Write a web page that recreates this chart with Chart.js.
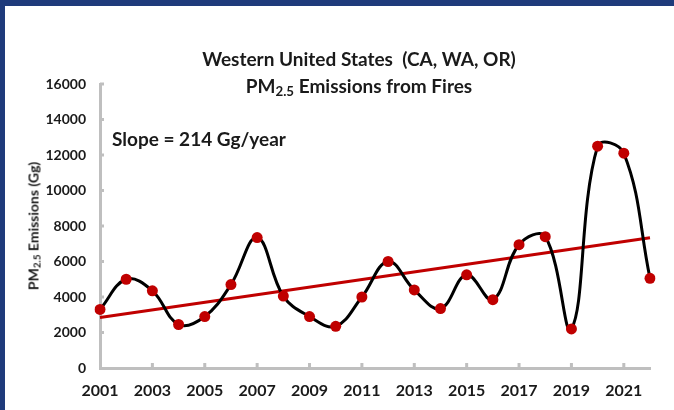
<!DOCTYPE html>
<html>
<head>
<meta charset="utf-8">
<script src="https://cdn.jsdelivr.net/npm/chart.js@4"></script>
<style>
  html, body { margin: 0; padding: 0; background: #fff; }
  #frame { position: relative; width: 674px; height: 410px; box-sizing: border-box;
           border-top: 6px solid #1F3B7B; border-left: 5px solid #1F3B7B; background: #fff; overflow: hidden; }
  #c { position: absolute; left: -5px; top: -6px; }
  .txt { position: absolute; font-family: Lato, 'Open Sans', sans-serif; font-weight: bold; color: #1a1a1a; white-space: nowrap; }
  .txt sub { font-size: 70%; vertical-align: -0.25em; line-height: 0; }
  #t1 { left: 354px; top: 41px; transform: translateX(-50%); font-size: 19px; }
  #t2 { left: 354px; top: 68px; transform: translateX(-50%); font-size: 19px; }
  #slope { left: 107px; top: 121px; font-size: 19px; }
  #ytitle { left: 28px; top: 220px; font-size: 14px; transform: translate(-50%, -50%) rotate(-90deg); }
</style>
</head>
<body>
<div id="frame">
  <canvas id="c" width="674" height="410"></canvas>
  <div class="txt" id="t1">Western United States&nbsp; (CA, WA, OR)</div>
  <div class="txt" id="t2">PM<sub>2.5</sub> Emissions from Fires</div>
  <div class="txt" id="slope">Slope = 214 Gg/year</div>
  <div class="txt" id="ytitle">PM<sub>2.5</sub> Emissions (Gg)</div>
</div>
<script>
// données
const years = ['2001','2002','2003','2004','2005','2006','2007','2008','2009','2010','2011',
               '2012','2013','2014','2015','2016','2017','2018','2019','2020','2021','2022'];
const emissions = [3300, 5000, 4350, 2450, 2900, 4700, 7350, 4050, 2900, 2350, 4000,
                   6000, 4400, 3350, 5250, 3850, 6950, 7400, 2200, 12500, 12100, 5050];
const trendYears = ['2001', '2022'];
const trendValues = [2850, 7344];
const yMin = 0, yMax = 16000, yStep = 2000;

const axisGray = '#BFBFBF';
const darkRed = '#C00000';

// petits traits de graduation vers l'intérieur
const innerTicks = {
  id: 'innerTicks',
  afterDraw(chart){
    const ctx = chart.ctx, x = chart.scales.x, y = chart.scales.y;
    ctx.save();
    ctx.strokeStyle = axisGray;
    ctx.lineWidth = 3;
    ctx.beginPath();
    years.forEach(function(lbl, i){
      if(i % 2 === 0 && i > 0){
        const px = x.getPixelForValue(i);
        ctx.moveTo(px, y.bottom); ctx.lineTo(px, y.bottom - 5);
      }
    });
    for(let v = yMin + yStep; v <= yMax; v += yStep){
      const py = y.getPixelForValue(v);
      ctx.moveTo(x.left, py); ctx.lineTo(x.left + 4, py);
    }
    ctx.stroke();
    ctx.restore();
  }
};

const ctx = document.getElementById('c').getContext('2d');
new Chart(ctx, {
  type: 'line',
  data: {
    labels: years,
    datasets: [
      { label: 'Trend', data: trendYears.map((yr, i) => ({ x: yr, y: trendValues[i] })),
        borderColor: darkRed, borderWidth: 3, pointRadius: 0, tension: 0, order: 1 },
      { label: 'PM2.5', data: emissions, borderColor: '#000', borderWidth: 3, tension: 0.4,
        pointRadius: 5.5, pointBackgroundColor: darkRed, pointBorderWidth: 0, order: 0 }
    ]
  },
  options: {
    responsive: false,
    animation: false,
    layout: { padding: { top: 84, right: 24, left: 0, bottom: 0 } },
    plugins: { legend: { display: false }, tooltip: { enabled: false } },
    scales: {
      x: {
        type: 'category', offset: false,
        grid: { display: false, drawTicks: false },
        border: { color: axisGray, width: 3 },
        afterFit: function(s){ s.height = 42; },
        ticks: { autoSkip: false, maxRotation: 0, padding: 13, color: '#1a1a1a',
                 font: { family: 'Lato', weight: 'bold', size: 16 },
                 callback: function(v, i){ return i % 2 === 0 ? years[i] : ''; } }
      },
      y: {
        min: yMin, max: yMax,
        grid: { display: false, drawTicks: false },
        border: { color: axisGray, width: 3 },
        afterFit: function(s){ s.width = 100; },
        ticks: { stepSize: yStep, padding: 14, color: '#1a1a1a',
                 font: { family: 'Lato', weight: 'bold', size: 14 },
                 callback: function(v){ return String(v); } }
      }
    }
  },
  plugins: [innerTicks]
});
</script>
</body>
</html>
